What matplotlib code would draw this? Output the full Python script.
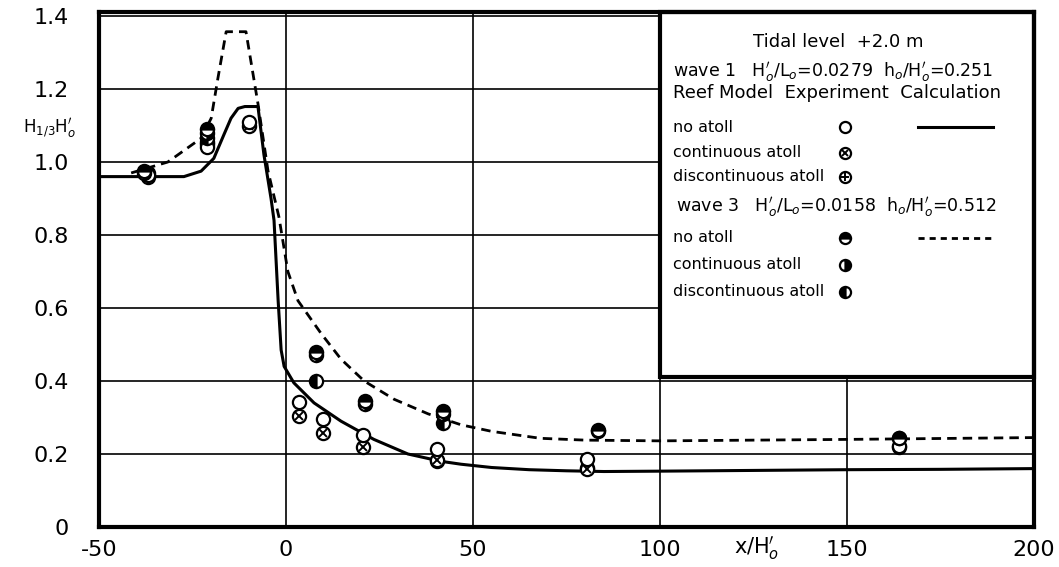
import matplotlib
matplotlib.use("Agg")
import matplotlib.pyplot as plt
from matplotlib.patches import Rectangle

# ---- calculated wave height curves ----
calc_wave1_x = [-50, -27.3, -22.7, -19.3, -16.6, -14.7, -12.8, -11, -7.5, -5.9, -4.0, -3.2,
                -2.6, -2.1, -1.3, -0.5, 2.1, 7.5, 14.7, 23.5, 32.6, 41.4, 46.8, 55, 65, 75,
                85, 100, 125, 150, 175, 200]
calc_wave1_y = [0.96, 0.96, 0.975, 1.01, 1.075, 1.12, 1.147, 1.152, 1.152, 1.02, 0.90, 0.84,
                0.72, 0.62, 0.485, 0.44, 0.395, 0.34, 0.29, 0.24, 0.20, 0.18, 0.172, 0.163,
                0.157, 0.154, 0.152, 0.153, 0.155, 0.157, 0.158, 0.16]

calc_wave3_x = [-41.4, -31.6, -22.7, -20, -18.2, -16, -10.7, -7.5, -4.8, -1.9, 0.5, 3.2, 9.4,
                14.7, 20.9, 28.9, 38, 46.8, 55, 68, 80, 100, 150, 200]
calc_wave3_y = [0.97, 1.0, 1.065, 1.12, 1.23, 1.357, 1.357, 1.16, 0.975, 0.85, 0.70, 0.62,
                0.53, 0.46, 0.40, 0.35, 0.31, 0.28, 0.262, 0.243, 0.238, 0.236, 0.24, 0.245]

# ---- model experiment results ----
w1_none_x = [-37, -21, -10, 3.5, 10, 20.5, 40.5, 80.5, 164]
w1_none_y = [0.965, 1.04, 1.11, 0.343, 0.297, 0.253, 0.214, 0.185, 0.222]
w1_cont_x = [-37, -21, -10, 3.5, 10, 20.5, 40.5, 80.5, 164]
w1_cont_y = [0.958, 1.05, 1.10, 0.305, 0.258, 0.22, 0.184, 0.158, 0.218]
w1_disc_x = [-37, -21, 40.5, 80.5]
w1_disc_y = [0.97, 1.055, 0.18, 0.162]

w3_none_x = [-38, -21, 8, 21, 42, 83.5, 164]
w3_none_y = [0.975, 1.09, 0.48, 0.345, 0.318, 0.267, 0.245]
w3_cont_x = [-38, -21, 8, 21, 42, 83.5, 164]
w3_cont_y = [0.97, 1.08, 0.47, 0.338, 0.31, 0.262, 0.243]
w3_disc_x = [-21, 8, 42]
w3_disc_y = [1.065, 0.40, 0.285]

x_ticks = [-50, 0, 50, 100, 150, 200]
y_ticks = [0, 0.2, 0.4, 0.6, 0.8, 1.0, 1.2, 1.4]
y_tick_labels = ["0", "0.2", "0.4", "0.6", "0.8", "1.0", "1.2", "1.4"]

W, H = 1059, 567
plt.rcParams["font.family"] = ["DejaVu Sans"]
plt.rcParams["mathtext.fontset"] = "dejavusans"

fig = plt.figure(figsize=(W / 100, H / 100), dpi=100)
ax = fig.add_axes([99 / W, 40 / H, (1034 - 99) / W, (527 - 12) / H])
ax.set_xlim(-50, 200)
ax.set_ylim(0, 1.411)

ax.set_xticks(x_ticks)
ax.set_xticklabels([str(v) for v in x_ticks])
ax.set_yticks(y_ticks)
ax.set_yticklabels(y_tick_labels)
ax.tick_params(axis="both", length=0, labelsize=16)
ax.tick_params(axis="y", pad=22)
ax.tick_params(axis="x", pad=9)
ax.grid(True, color="black", linewidth=1.2)
ax.set_axisbelow(True)
for s in ax.spines.values():
    s.set_linewidth(3.0)
    s.set_zorder(6)

ax.plot(calc_wave1_x, calc_wave1_y, color="black", lw=2.2, zorder=3)
ax.plot(calc_wave3_x, calc_wave3_y, color="black", lw=2.0, linestyle=(0, (3.4, 2.2)), zorder=3)


def put_marker(x, y, kind, ms, transform=None):
    kw = dict(linestyle="none", clip_on=False, zorder=5)
    if transform is not None:
        kw["transform"] = transform
    base = dict(marker="o", ms=ms, mec="black", mew=1.6)
    if kind == "open":
        ax.plot(x, y, mfc="white", **base, **kw)
    elif kind == "cross":
        ax.plot(x, y, mfc="white", **base, **kw)
        ax.plot(x, y, marker="x", ms=ms * 0.55, mec="black", mew=1.4, **kw)
    elif kind == "plus":
        ax.plot(x, y, mfc="white", **base, **kw)
        ax.plot(x, y, marker="+", ms=ms * 0.8, mec="black", mew=1.4, **kw)
    else:
        ax.plot(x, y, fillstyle=kind, mfc="black", markerfacecoloralt="white", **base, **kw)


ms_data = 9.5
put_marker(w1_disc_x, w1_disc_y, "plus", ms_data)
put_marker(w1_cont_x, w1_cont_y, "cross", ms_data)
put_marker(w1_none_x, w1_none_y, "open", ms_data)
put_marker(w3_disc_x, w3_disc_y, "left", ms_data)
put_marker(w3_cont_x, w3_cont_y, "right", ms_data)
put_marker(w3_none_x, w3_none_y, "top", ms_data)

# key panel in the upper right
ax.add_patch(Rectangle((100, 0.41), 100, 1.001, facecolor="white", edgecolor="black",
                       lw=3.0, zorder=4, clip_on=False))


def fp(px, py):
    return px / W, 1 - py / H


tf = fig.transFigure
fig.text(*fp(753, 42), "Tidal level  +2.0 m", fontsize=13, va="center", ha="left")
fig.text(*fp(673, 72), r"wave 1   H$_o'$/L$_o$=0.0279  h$_o$/H$_o'$=0.251", fontsize=12.5,
         va="center", ha="left")
fig.text(*fp(673, 93), "Reef Model  Experiment  Calculation", fontsize=13, va="center", ha="left")
fig.text(*fp(676, 207), r"wave 3   H$_o'$/L$_o$=0.0158  h$_o$/H$_o'$=0.512", fontsize=12.5,
         va="center", ha="left")

rows = [
    (127, "no atoll", "open"),
    (153, "continuous atoll", "cross"),
    (177, "discontinuous atoll", "plus"),
    (238, "no atoll", "top"),
    (265, "continuous atoll", "right"),
    (292, "discontinuous atoll", "left"),
]
for py, label, kind in rows:
    fig.text(*fp(673, py), label, fontsize=11.5, va="center", ha="left")
    mx, my = fp(845, py)
    put_marker([mx], [my], kind, 8, transform=tf)

x1, yl = fp(918, 127)
x2, _ = fp(993, 127)
ax.plot([x1, x2], [yl, yl], color="black", lw=2.2, transform=tf, clip_on=False, zorder=5)
x1, yl = fp(918, 238)
ax.plot([x1, x2], [yl, yl], color="black", lw=2.0, linestyle=(0, (2.2, 1.8)), transform=tf,
        clip_on=False, zorder=5)

# axis captions
fig.text(*fp(757, 548), r"x/H$_o'$", fontsize=15, va="center", ha="center")
fig.text(*fp(50, 128), r"H$_{1/3}$H$_o'$", fontsize=12, va="center", ha="center")

fig.savefig("out.png", dpi=100)
